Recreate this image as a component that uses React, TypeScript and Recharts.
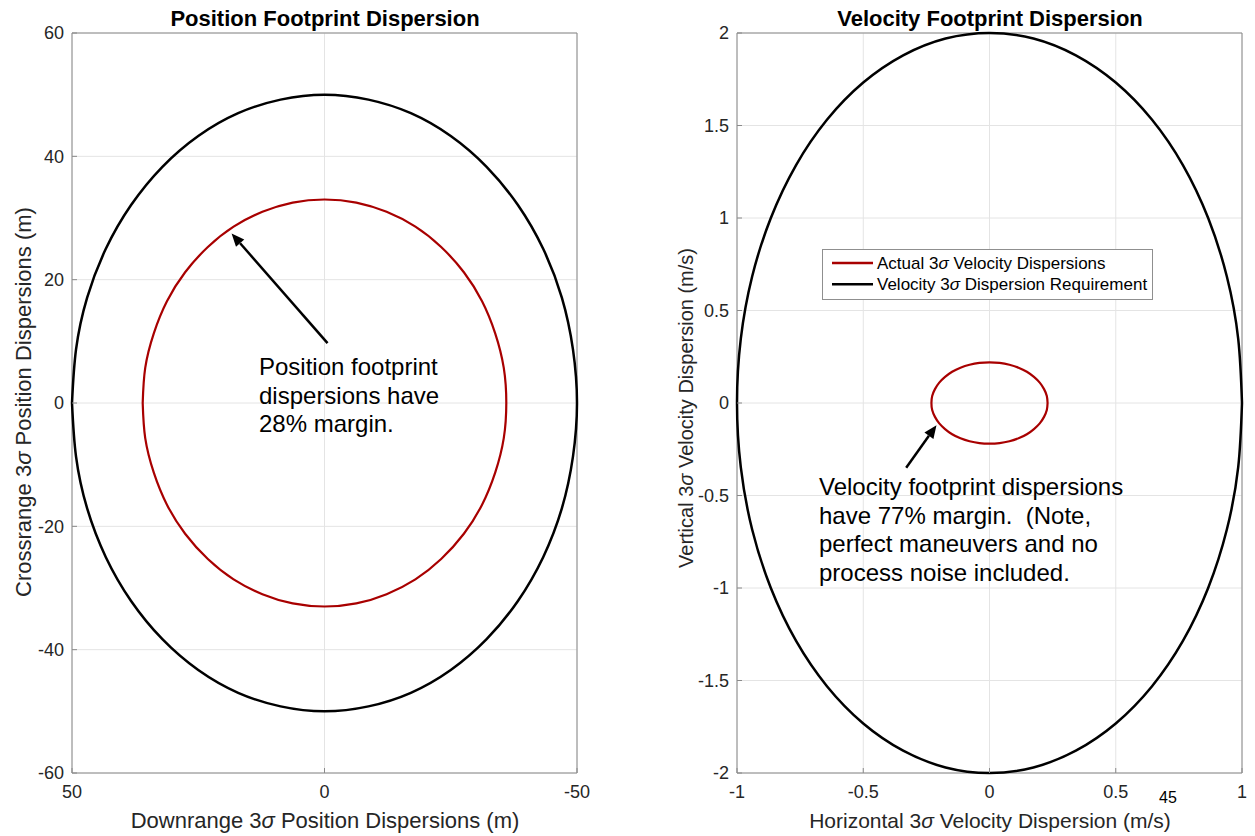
import React from "react";
import {
  ComposedChart,
  Line,
  XAxis,
  YAxis,
  CartesianGrid,
  ReferenceArea,
  ReferenceLine,
  Legend,
} from "recharts";

type Pt = [number, number];

// Position footprint, metres: [downrange, crossrange]
const posRequirement: Pt[] = [
  [50, 0], [49.2, 8.7], [47, 17.1], [43.3, 25], [38.3, 32.1], [32.1, 38.3], [25, 43.3], [17.1, 47], [8.7, 49.2],
  [0, 50], [-8.7, 49.2], [-17.1, 47], [-25, 43.3], [-32.1, 38.3], [-38.3, 32.1], [-43.3, 25], [-47, 17.1], [-49.2, 8.7],
  [-50, 0], [-49.2, -8.7], [-47, -17.1], [-43.3, -25], [-38.3, -32.1], [-32.1, -38.3], [-25, -43.3], [-17.1, -47], [-8.7, -49.2],
  [0, -50], [8.7, -49.2], [17.1, -47], [25, -43.3], [32.1, -38.3], [38.3, -32.1], [43.3, -25], [47, -17.1], [49.2, -8.7],
  [50, 0],
];
const posActual: Pt[] = [
  [36, 0], [35.5, 5.7], [33.8, 11.3], [31.2, 16.5], [27.6, 21.2], [23.1, 25.3], [18, 28.6], [12.3, 31], [6.3, 32.5],
  [0, 33], [-6.3, 32.5], [-12.3, 31], [-18, 28.6], [-23.1, 25.3], [-27.6, 21.2], [-31.2, 16.5], [-33.8, 11.3], [-35.5, 5.7],
  [-36, 0], [-35.5, -5.7], [-33.8, -11.3], [-31.2, -16.5], [-27.6, -21.2], [-23.1, -25.3], [-18, -28.6], [-12.3, -31], [-6.3, -32.5],
  [0, -33], [6.3, -32.5], [12.3, -31], [18, -28.6], [23.1, -25.3], [27.6, -21.2], [31.2, -16.5], [33.8, -11.3], [35.5, -5.7],
  [36, 0],
];
const posXTicks = [50, 0, -50];
const posYTicks = [-60, -40, -20, 0, 20, 40, 60];
const posArrow: Pt[] = [[-0.6, 9.7], [18.4, 27.5]];
const posNote = ["Position footprint", "dispersions have", "28% margin."];

// Velocity footprint, m/s: [horizontal, vertical]
const velRequirement: Pt[] = [
  [1, 0], [0.985, 0.347], [0.94, 0.684], [0.866, 1], [0.766, 1.286], [0.643, 1.532], [0.5, 1.732], [0.342, 1.879], [0.174, 1.97],
  [0, 2], [-0.174, 1.97], [-0.342, 1.879], [-0.5, 1.732], [-0.643, 1.532], [-0.766, 1.286], [-0.866, 1], [-0.94, 0.684], [-0.985, 0.347],
  [-1, 0], [-0.985, -0.347], [-0.94, -0.684], [-0.866, -1], [-0.766, -1.286], [-0.643, -1.532], [-0.5, -1.732], [-0.342, -1.879], [-0.174, -1.97],
  [0, -2], [0.174, -1.97], [0.342, -1.879], [0.5, -1.732], [0.643, -1.532], [0.766, -1.286], [0.866, -1], [0.94, -0.684], [0.985, -0.347],
  [1, 0],
];
const velActual: Pt[] = [
  [0.23, 0], [0.227, 0.038], [0.216, 0.075], [0.199, 0.11], [0.176, 0.141], [0.148, 0.169], [0.115, 0.191], [0.079, 0.207], [0.04, 0.217],
  [0, 0.22], [-0.04, 0.217], [-0.079, 0.207], [-0.115, 0.191], [-0.148, 0.169], [-0.176, 0.141], [-0.199, 0.11], [-0.216, 0.075], [-0.227, 0.038],
  [-0.23, 0], [-0.227, -0.038], [-0.216, -0.075], [-0.199, -0.11], [-0.176, -0.141], [-0.148, -0.169], [-0.115, -0.191], [-0.079, -0.207], [-0.04, -0.217],
  [0, -0.22], [0.04, -0.217], [0.079, -0.207], [0.115, -0.191], [0.148, -0.169], [0.176, -0.141], [0.199, -0.11], [0.216, -0.075], [0.227, -0.038],
  [0.23, 0],
];
const velXTicks = [-1, -0.5, 0, 0.5, 1];
const velYTicks = [-2, -1.5, -1, -0.5, 0, 0.5, 1, 1.5, 2];
const velArrow: Pt[] = [[-0.33, -0.35], [-0.21, -0.12]];
const velNote = [
  "Velocity footprint dispersions",
  "have 77% margin.  (Note,",
  "perfect maneuvers and no",
  "process noise included.",
];

const RED = "#a80000";
const GRID = "#e4e4e4";
const AXIS = "#8a8a8a";
const TEXT = "#262626";
const FONT = "'Liberation Sans', Arial, Helvetica, sans-serif";

const tickStyle = { fontSize: 18, fill: TEXT, fontFamily: FONT };

const toRows = (pts: Pt[]) => pts.map(([x, y]) => ({ x, y }));
const toSegment = (pts: Pt[]) => pts.map(([x, y]) => ({ x, y }));

// renders "3σ" with an italic sigma, like TeX labels
function withSigma(s: string) {
  return s.split("σ").flatMap((part, i) =>
    i === 0 ? [part] : [<tspan key={i} fontStyle="italic">σ</tspan>, part]
  );
}

// annotation arrow: shaft plus a filled head at the second segment point
function arrowShape(props: any) {
  const { x1, y1, x2, y2 } = props;
  const ang = Math.atan2(y2 - y1, x2 - x1);
  const len = 13;
  const half = 5.5;
  const bx = x2 - len * Math.cos(ang);
  const by = y2 - len * Math.sin(ang);
  const px = -Math.sin(ang) * half;
  const py = Math.cos(ang) * half;
  return (
    <g>
      <line x1={x1} y1={y1} x2={bx} y2={by} stroke="#000" strokeWidth={2.5} />
      <polygon points={`${x2},${y2} ${bx + px},${by + py} ${bx - px},${by - py}`} fill="#000" />
    </g>
  );
}

function VelLegend(props: any) {
  const items = props.payload ?? [];
  return (
    <svg width={331} height={51} style={{ fontFamily: FONT }}>
      <rect x={0.5} y={0.5} width={330} height={50} fill="#fff" stroke="#8f8f8f" />
      {items.map((it: any, i: number) => (
        <g key={String(it.value)}>
          <line x1={10} x2={51} y1={14 + 21.3 * i} y2={14 + 21.3 * i} stroke={it.color} strokeWidth={2.5} />
          <text x={55} y={20 + 21.3 * i} fontSize={17} fill="#000">
            {withSigma(String(it.value))}
          </text>
        </g>
      ))}
    </svg>
  );
}

function PositionChart() {
  return (
    <ComposedChart width={640} height={836} margin={{ top: 33, right: 63, bottom: 0, left: 0 }}>
      <CartesianGrid stroke={GRID} />
      <XAxis
        type="number"
        dataKey="x"
        domain={[-50, 50]}
        reversed
        ticks={posXTicks}
        interval={0}
        height={63}
        axisLine={false}
        tickLine={{ stroke: AXIS }}
        tickSize={-5}
        tickMargin={17}
        tick={tickStyle}
      />
      <YAxis
        type="number"
        dataKey="y"
        domain={[-60, 60]}
        ticks={posYTicks}
        interval={0}
        width={72}
        axisLine={false}
        tickLine={{ stroke: AXIS }}
        tickSize={-5}
        tickMargin={13}
        tick={tickStyle}
      />
      <ReferenceArea x1={-50} x2={50} y1={-60} y2={60} fill="none" stroke={AXIS} />
      <Line data={toRows(posRequirement)} dataKey="y" type="natural" stroke="#000" strokeWidth={2.5} dot={false} activeDot={false} isAnimationActive={false} />
      <Line data={toRows(posActual)} dataKey="y" type="natural" stroke={RED} strokeWidth={2.2} dot={false} activeDot={false} isAnimationActive={false} />
      <ReferenceLine segment={toSegment(posArrow)} shape={arrowShape} />
    </ComposedChart>
  );
}

function VelocityChart() {
  return (
    <ComposedChart width={615} height={836} margin={{ top: 33, right: 13, bottom: 0, left: 0 }}>
      <CartesianGrid stroke={GRID} />
      <XAxis
        type="number"
        dataKey="x"
        domain={[-1, 1]}
        ticks={velXTicks}
        interval={0}
        height={63}
        axisLine={false}
        tickLine={{ stroke: AXIS }}
        tickSize={-5}
        tickMargin={17}
        tick={tickStyle}
      />
      <YAxis
        type="number"
        dataKey="y"
        domain={[-2, 2]}
        ticks={velYTicks}
        interval={0}
        width={97}
        axisLine={false}
        tickLine={{ stroke: AXIS }}
        tickSize={-5}
        tickMargin={13}
        tick={tickStyle}
      />
      <ReferenceArea x1={-1} x2={1} y1={-2} y2={2} fill="none" stroke={AXIS} />
      <Line
        name="Actual 3σ Velocity Dispersions"
        data={toRows(velActual)}
        dataKey="y"
        type="natural"
        stroke={RED}
        strokeWidth={2.2}
        dot={false}
        activeDot={false}
        isAnimationActive={false}
      />
      <Line
        name="Velocity 3σ Dispersion Requirement"
        data={toRows(velRequirement)}
        dataKey="y"
        type="natural"
        stroke="#000"
        strokeWidth={2.5}
        dot={false}
        activeDot={false}
        isAnimationActive={false}
      />
      <ReferenceLine segment={toSegment(velArrow)} shape={arrowShape} />
      <Legend
        layout="horizontal"
        verticalAlign="middle"
        align="center"
        wrapperStyle={{ left: 182, top: 249, width: 331, height: 51 }}
        content={VelLegend}
      />
    </ComposedChart>
  );
}

export default function App() {
  return (
    <div style={{ position: "absolute", left: 0, top: 0, width: 1255, height: 836, background: "#fff", fontFamily: FONT }}>
      <div style={{ position: "absolute", left: 0, top: 0 }}>
        <PositionChart />
      </div>
      <div style={{ position: "absolute", left: 640, top: 0 }}>
        <VelocityChart />
      </div>
      <svg
        width={1255}
        height={836}
        style={{ position: "absolute", left: 0, top: 0, pointerEvents: "none", fontFamily: FONT }}
      >
        <text x={325} y={26} textAnchor="middle" fontSize={22} fontWeight="bold" fill="#000">
          Position Footprint Dispersion
        </text>
        <text x={990} y={26} textAnchor="middle" fontSize={22} fontWeight="bold" fill="#000">
          Velocity Footprint Dispersion
        </text>
        <text x={325} y={828} textAnchor="middle" fontSize={22} fill={TEXT}>
          {withSigma("Downrange 3σ Position Dispersions (m)")}
        </text>
        <text x={990} y={828} textAnchor="middle" fontSize={21} fill={TEXT}>
          {withSigma("Horizontal 3σ Velocity Dispersion (m/s)")}
        </text>
        <text transform="translate(31,402) rotate(-90)" textAnchor="middle" fontSize={22} fill={TEXT}>
          {withSigma("Crossrange 3σ Position Dispersions (m)")}
        </text>
        <text transform="translate(693,408) rotate(-90)" textAnchor="middle" fontSize={20} fill={TEXT}>
          {withSigma("Vertical 3σ Velocity Dispersion (m/s)")}
        </text>
        {posNote.map((line, i) => (
          <text key={line} x={259} y={375 + 28.5 * i} fontSize={24} fill="#000">
            {line}
          </text>
        ))}
        {velNote.map((line, i) => (
          <text key={line} x={819} y={495 + 28.5 * i} fontSize={24} fill="#000" style={{ whiteSpace: "pre" }}>
            {line}
          </text>
        ))}
        <text x={1168} y={803} textAnchor="middle" fontSize={16} fill="#000">
          45
        </text>
      </svg>
    </div>
  );
}
